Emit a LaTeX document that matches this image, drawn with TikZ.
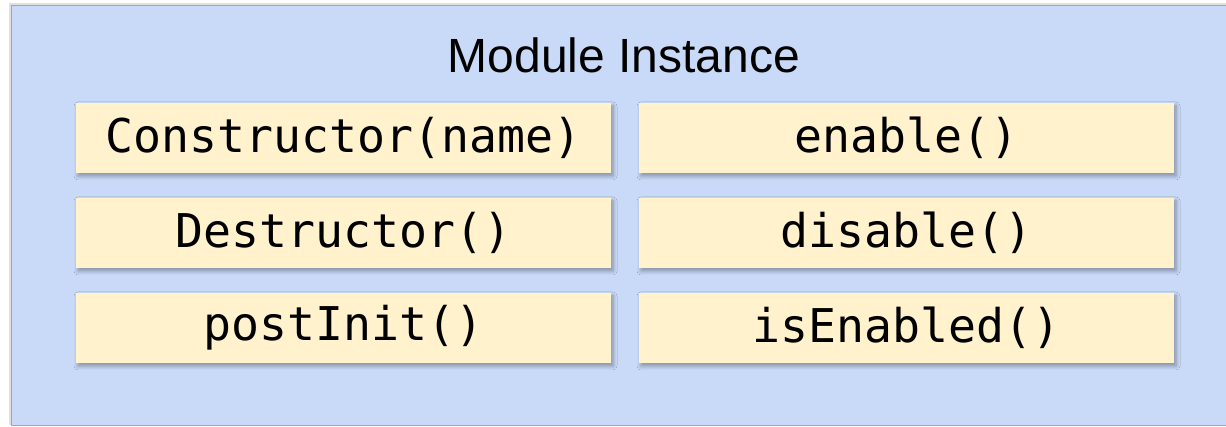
\documentclass[tikz,border=0pt]{standalone}
\usepackage{fontspec}
\setmainfont{Liberation Sans}
\setmonofont{DejaVu Sans Mono}
\usepackage{tikz}
\usetikzlibrary{shadows.blur}
\definecolor{modblue}{HTML}{C9DAF8}
\definecolor{fnyellow}{HTML}{FFF2CC}

\begin{document}
\begin{tikzpicture}[x=1pt,y=1pt,
	fnbox/.style={fill=fnyellow, minimum width=535pt, minimum height=70pt,
		inner sep=0pt, font=\fontsize{46.5}{50}\ttfamily,
		blur shadow={shadow xshift=2pt, shadow yshift=-3pt, shadow blur steps=6,
			shadow opacity=35, shadow blur radius=4pt}}]
\useasboundingbox (0,0) rectangle (1226,427);
\fill[black!12] (9,2) rectangle (1226,424);
\filldraw[fill=modblue, draw=black!35] (11,2) rectangle (1230,422);
\node[font=\fontsize{48}{52}\selectfont] (title) at (624,372) {Module Instance};
% left column
\node[fnbox] (ctor) at (343.5,289) {Constructor(name)};
\node[fnbox] (dtor) at (343.5,194) {Destructor()};
\node[fnbox] (init) at (343.5,99) {postInit()};
% right column
\node[fnbox] (enab) at (906.5,289) {enable()};
\node[fnbox] (disab) at (906.5,194) {disable()};
\node[fnbox] (isen) at (906.5,99) {isEnabled()};
\end{tikzpicture}
\end{document}
